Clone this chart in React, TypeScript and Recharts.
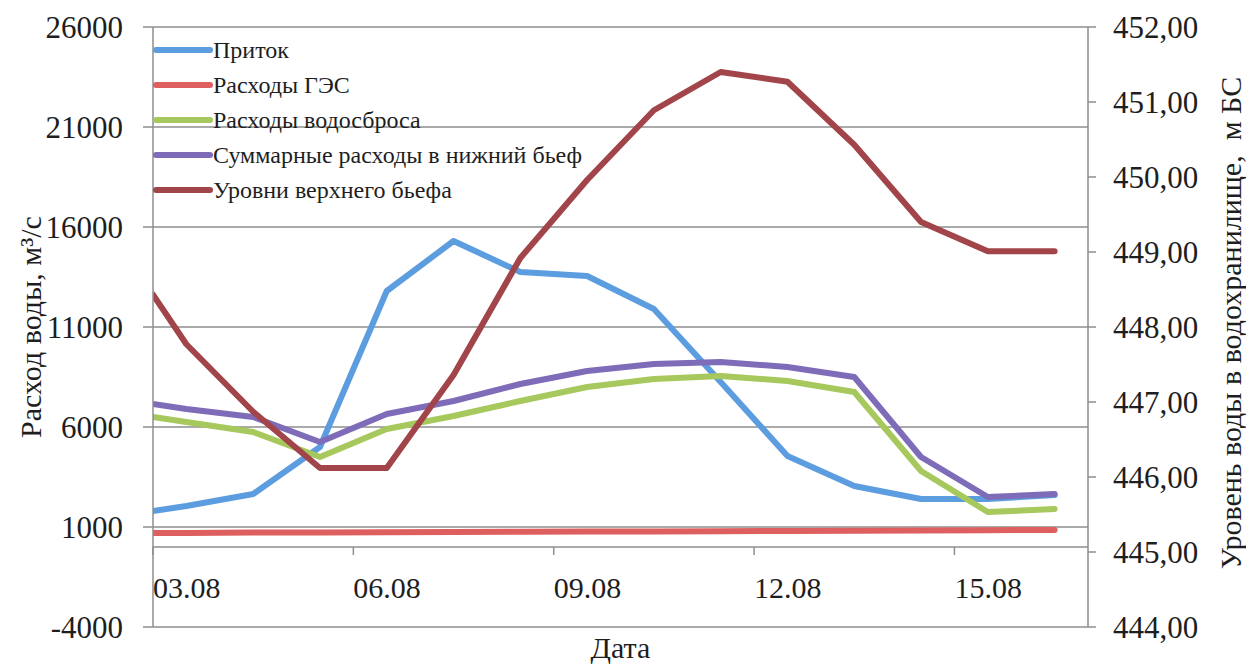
import React from 'react';
import { LineChart, Line, XAxis, YAxis, CartesianGrid, Legend, ReferenceLine } from 'recharts';

// ---- data ----
// days after 03.08 00:00
const dayOffsets = [0, 0.5, 1.5, 2.5, 3.5, 4.5, 5.5, 6.5, 7.5, 8.5, 9.5, 10.5, 11.5, 12.5, 13.5];
const inflow = [1800, 2050, 2650, 5000, 12800, 15300, 13750, 13550, 11900, 8250, 4550, 3050, 2400, 2400, 2600];
const hppFlow = [700, 700, 720, 730, 740, 750, 760, 770, 780, 790, 800, 810, 820, 840, 850];
const spillwayFlow = [6500, 6250, 5750, 4500, 5900, 6550, 7300, 8000, 8400, 8550, 8300, 7750, 3800, 1750, 1900];
const totalOutflow = [7150, 6900, 6500, 5250, 6650, 7300, 8150, 8800, 9150, 9250, 9000, 8500, 4500, 2500, 2650];
const upperLevel = [448.43, 447.77, 446.87, 446.12, 446.12, 447.36, 448.92, 449.96, 450.89, 451.4, 451.27, 450.43, 449.4, 449.01, 449.01];

const dateTickDays = [0, 3, 6, 9, 12];
const dateTickLabels = ['03.08', '06.08', '09.08', '12.08', '15.08'];
const flowTicks = [-4000, 1000, 6000, 11000, 16000, 21000, 26000];
const levelTicks = [444, 445, 446, 447, 448, 449, 450, 451, 452];

const seriesKeys = ['inflow', 'hpp', 'spillway', 'total', 'level'];
const seriesNames = [
  'Приток',
  'Расходы ГЭС',
  'Расходы водосброса',
  'Суммарные расходы в нижний бьеф',
  'Уровни верхнего бьефа',
];

const data = dayOffsets.map((t, i) => ({
  t,
  inflow: inflow[i],
  hpp: hppFlow[i],
  spillway: spillwayFlow[i],
  total: totalOutflow[i],
  level: upperLevel[i],
}));

// ---- styles ----
const FONT = "Liberation Serif, Tinos, DejaVu Serif, Noto Serif, serif";
const GRID = '#8e8e8e';
const TEXT = '#1e1e1e';
const COLORS = ['#5c9de0', '#de5f5f', '#a6c85c', '#7e6cb8', '#a1454b'];
const AXIS_SHIFT = 80; // distance from plot bottom (-4000) up to the 0 line

function DateTick(props: any) {
  const { x, y, payload } = props;
  const y0 = y - AXIS_SHIFT;
  const i = dateTickDays.indexOf(payload.value);
  return (
    <g>
      <line x1={x} x2={x} y1={y0} y2={y0 + 8} stroke={GRID} strokeWidth={1.5} />
      <text x={x} y={y0 + 51} textAnchor="start" fontSize={30} fontFamily={FONT} fill={TEXT}>
        {dateTickLabels[i]}
      </text>
    </g>
  );
}

function LegendContent(props: any) {
  const payload = (props.payload || [])
    .slice()
    .sort((a: any, b: any) => seriesNames.indexOf(a.value) - seriesNames.indexOf(b.value));
  return (
    <div style={{ fontFamily: FONT, fontSize: 24, color: TEXT }}>
      {payload.map((p: any) => (
        <div key={p.value} style={{ display: 'flex', alignItems: 'center', height: 35 }}>
          <svg width={60} height={10} style={{ display: 'block' }}>
            <line x1={3} x2={57} y1={5} y2={5} stroke={p.color} strokeWidth={6} strokeLinecap="round" />
          </svg>
          <span style={{ whiteSpace: 'nowrap', lineHeight: 1 }}>{p.value}</span>
        </div>
      ))}
    </div>
  );
}

const levelFmt = (v: number) => v.toFixed(2).replace('.', ',');

export default function App() {
  return (
    <div style={{ width: 1240, height: 660, background: '#fff', fontFamily: FONT }}>
      <LineChart width={1240} height={660} data={data} margin={{ top: 19, right: 0, left: 0, bottom: 0 }}>
        <CartesianGrid vertical={false} stroke={GRID} strokeWidth={1.5} />
        <XAxis
          dataKey="t"
          type="number"
          domain={[0, 14]}
          ticks={dateTickDays}
          allowDataOverflow
          height={41}
          axisLine={false}
          tickLine={false}
          tickSize={0}
          tickMargin={0}
          tick={<DateTick />}
          label={{ value: 'Дата', position: 'insideBottom', offset: 10, fontSize: 30, fontFamily: FONT, fill: TEXT }}
        />
        <YAxis
          domain={[-4000, 26000]}
          ticks={flowTicks}
          width={145}
          axisLine={{ stroke: GRID, strokeWidth: 1.5 }}
          tickLine={{ stroke: GRID, strokeWidth: 1.5 }}
          tickSize={10}
          tickMargin={20}
          tick={{ fontSize: 31, fontFamily: FONT, fill: TEXT }}
          label={{
            value: 'Расход воды, м³/с',
            angle: -90,
            position: 'center',
            dx: -50,
            fontSize: 30,
            fontFamily: FONT,
            fill: TEXT,
          }}
        />
        <YAxis
          yAxisId="right"
          orientation="right"
          domain={[444, 452]}
          ticks={levelTicks}
          width={160}
          axisLine={{ stroke: GRID, strokeWidth: 1.5 }}
          tickLine={{ stroke: GRID, strokeWidth: 1.5 }}
          tickSize={8}
          tickMargin={17}
          tickFormatter={levelFmt}
          tick={{ fontSize: 31, fontFamily: FONT, fill: TEXT }}
          label={{
            value: 'Уровень воды в водохранилище,\u00A0 м БС',
            angle: -90,
            position: 'center',
            dx: 62,
            dy: -4,
            fontSize: 30,
            fontFamily: FONT,
            fill: TEXT,
          }}
        />
        <ReferenceLine y={0} stroke={GRID} strokeWidth={1.5} />
        <Legend
          layout="vertical"
          align="center"
          verticalAlign="middle"
          content={<LegendContent />}
          wrapperStyle={{ left: 145, top: 24, width: 'auto', height: 'auto' }}
        />
        {seriesKeys.map((k, i) => (
          <Line
            key={k}
            dataKey={k}
            name={seriesNames[i]}
            yAxisId={k === 'level' ? 'right' : 0}
            type="linear"
            stroke={COLORS[i]}
            strokeWidth={6}
            strokeLinecap="round"
            strokeLinejoin="round"
            dot={false}
            activeDot={false}
            isAnimationActive={false}
          />
        ))}
      </LineChart>
    </div>
  );
}
